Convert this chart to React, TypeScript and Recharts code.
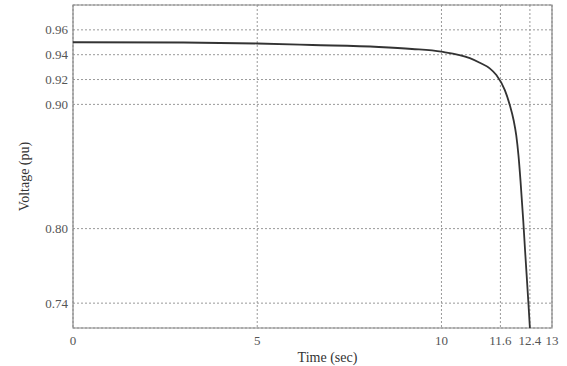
import React from 'react';
import {
  LineChart, Line, XAxis, YAxis, CartesianGrid, ReferenceArea
} from 'recharts';

// time (sec) and bus voltage (pu)
const timeSec = [0, 3, 5, 6.5, 8.3, 9.2, 10, 10.77, 11.04, 11.31, 11.49, 11.72, 11.85, 11.96, 12.03, 12.09, 12.145, 12.22, 12.27, 12.36, 12.4];
const voltagePu = [0.950, 0.9498, 0.949, 0.9478, 0.9462, 0.9446, 0.9424, 0.9372, 0.9335, 0.929, 0.9236, 0.9115, 0.900, 0.887, 0.875, 0.8589, 0.8386, 0.8063, 0.782, 0.740, 0.720];

const xTicks = [0, 5, 10, 11.6, 12.4, 13];
const yTicks = [0.74, 0.8, 0.9, 0.92, 0.94, 0.96];

const data = timeSec.map((t, i) => ({ t, v: voltagePu[i] }));

const font = '"Liberation Serif", "Times New Roman", serif';
const tickStyle = { fontSize: 13, fill: '#555', fontFamily: font };

export default function App() {
  return (
    <div style={{ position: 'absolute', left: 0, top: 0, background: '#fff' }}>
      <LineChart width={567} height={366} data={data} margin={{ top: 5, right: 15, bottom: 0, left: 0 }}>
        <CartesianGrid stroke="#999" strokeDasharray="2 2" strokeWidth={1} />
        <XAxis
          dataKey="t"
          type="number"
          domain={[0, 13]}
          ticks={xTicks}
          interval={0}
          height={38}
          tick={tickStyle}
          tickLine={false}
          axisLine={false}
          tickMargin={2}
          label={{ value: 'Time (sec)', position: 'insideBottom', offset: 4, dx: 15, style: { fontSize: 14, fill: '#333', fontFamily: font } }}
        />
        <YAxis
          type="number"
          domain={[0.72, 0.98]}
          ticks={yTicks}
          interval={0}
          width={73}
          tick={tickStyle}
          tickFormatter={(v: number) => v.toFixed(2)}
          tickLine={false}
          tickSize={5}
          axisLine={false}
          tickMargin={0}
          label={{ value: 'Voltage (pu)', angle: -90, position: 'center', dx: -12, dy: 10, style: { fontSize: 14, fill: '#333', fontFamily: font } }}
        />
        <ReferenceArea x1={0} x2={13} y1={0.72} y2={0.98} fill="none" stroke="#888" strokeWidth={1.2} ifOverflow="visible" />
        <Line
          type="monotone"
          dataKey="v"
          stroke="#333"
          strokeWidth={1.8}
          dot={false}
          isAnimationActive={false}
        />
      </LineChart>
    </div>
  );
}
